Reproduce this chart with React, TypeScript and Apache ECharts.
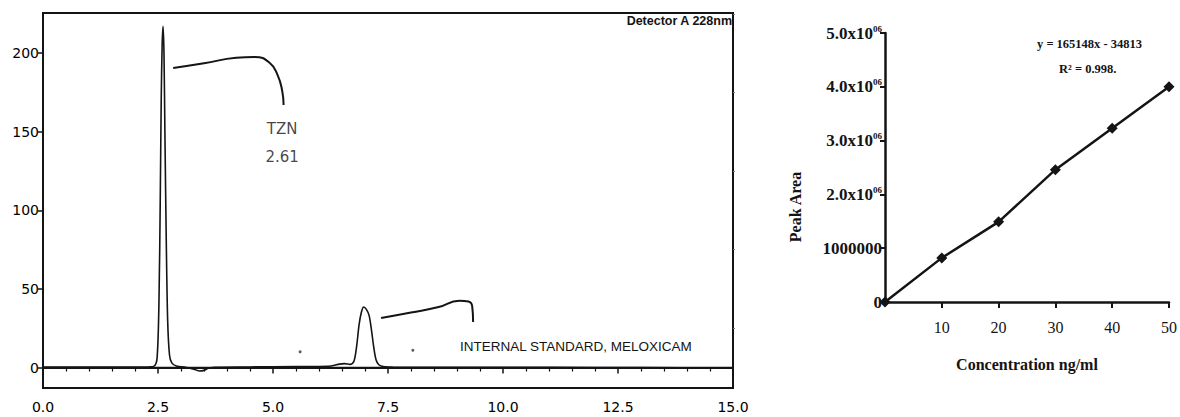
import React, { useEffect, useRef } from "react";
import * as echarts from "echarts";

// Chromatogram (left panel)
const chromTime = [0, 1.0, 2.0, 2.3, 2.42, 2.48, 2.52, 2.55, 2.57, 2.59, 2.61, 2.63, 2.65, 2.68, 2.71, 2.75, 2.8, 2.9, 3.1, 3.3, 3.4, 3.5, 3.6, 3.75, 4.5, 5.5, 6.2, 6.45, 6.55, 6.68, 6.76, 6.82, 6.87, 6.92, 6.97, 7.03, 7.09, 7.14, 7.19, 7.24, 7.3, 7.4, 7.6, 9.0, 11.0, 13.0, 15.0];
const chromSignal = [0.3, 0.3, 0.3, 0.4, 1, 6, 40, 110, 170, 205, 217, 200, 150, 80, 30, 8, 3, 1, 0.2, -1.2, -2.2, -1.8, -0.5, 0.2, 0.4, 0.6, 0.8, 2.2, 2.5, 2.0, 4, 14, 27, 35, 38.5, 37, 33, 24, 13, 5, 1.8, 0.6, 0.3, 0.2, 0.1, 0.0, -0.3];
const baselineTime = [0, 15];
const baselineSignal = [0, 0];
const tznLeaderTime = [2.83, 3.5, 4.2, 4.6, 4.92, 5.1, 5.2, 5.23];
const tznLeaderSignal = [190.5, 193.5, 197, 197.5, 194, 186, 176, 167];
const isLeaderTime = [7.35, 8.0, 8.6, 9.05, 9.25, 9.33, 9.35];
const isLeaderSignal = [31.5, 35, 38.5, 42.5, 42, 39, 29];
const dotTime = [5.59, 8.04];
const dotSignal = [10, 11];
const chromXTicks = [0, 2.5, 5, 7.5, 10, 12.5, 15];
const chromYTicks = [0, 50, 100, 150, 200];
const chromYMinorTicks = [25, 75, 125, 175, 225];

// Calibration (right panel)
const concentration = [0, 10, 20, 30, 40, 50];
const peakArea = [0, 820000, 1490000, 2460000, 3230000, 4000000];
const calXTicks = [10, 20, 30, 40, 50];

const zip = (a: number[], b: number[]) => a.map((v, i) => [v, b[i]]);
const ink = "#141414";

export default function App() {
  const ref = useRef<HTMLDivElement>(null);
  useEffect(() => {
    if (!ref.current) return;
    const chart = echarts.init(ref.current, undefined, { renderer: "svg" });
    const sans = "DejaVu Sans";
    const serif = "Liberation Serif";
    chart.setOption({
      animation: false,
      backgroundColor: "#ffffff",
      grid: [
        { left: 43, top: 13, width: 690, height: 375, show: true, borderColor: ink, borderWidth: 2, backgroundColor: "transparent" },
        { left: 885, top: 33, width: 288, height: 269 },
      ],
      xAxis: [
        {
          gridIndex: 0, type: "value", min: 0, max: 15, interval: 2.5,
          axisLine: { lineStyle: { color: ink, width: 2 } },
          axisTick: { show: true, length: 6, lineStyle: { color: ink, width: 1.5 } },
          minorTick: { show: true, splitNumber: 5, length: 4, lineStyle: { color: ink, width: 1.2 } },
          splitLine: { show: false },
          axisLabel: { color: "#000", fontFamily: sans, fontSize: 14, margin: 12, formatter: (v: number) => v.toFixed(1), customValues: chromXTicks },
        },
        {
          gridIndex: 1, type: "value", min: 0, max: 50, interval: 10,
          axisLine: { lineStyle: { color: ink, width: 2.5 } },
          axisTick: { show: true, length: 6, lineStyle: { color: ink, width: 2 }, customValues: calXTicks },
          splitLine: { show: false },
          axisLabel: { color: ink, fontFamily: serif, fontSize: 16, margin: 17, customValues: calXTicks },
          name: "Concentration ng/ml", nameLocation: "middle", nameGap: 54,
          nameTextStyle: { color: ink, fontFamily: serif, fontSize: 16, fontWeight: "bold" },
        },
      ],
      yAxis: [
        {
          gridIndex: 0, type: "value", min: -13, max: 225.5,
          axisLine: { show: true, lineStyle: { color: ink, width: 2 } },
          axisTick: { show: true, length: 5, lineStyle: { color: ink, width: 1.5 }, customValues: chromYTicks },
          splitLine: { show: false },
          axisLabel: { color: "#000", fontFamily: sans, fontSize: 14, margin: 4, customValues: chromYTicks },
        },
        {
          gridIndex: 0, type: "value", min: -13, max: 225.5,
          axisLine: { show: false },
          axisTick: { show: true, length: 2, lineStyle: { color: "#777", width: 1 }, customValues: chromYMinorTicks },
          splitLine: { show: false },
          axisLabel: { show: false },
        },
        {
          gridIndex: 1, type: "value", min: 0, max: 5000000, interval: 1000000,
          axisLine: { show: true, lineStyle: { color: ink, width: 2.5 } },
          axisTick: { show: true, length: 5, lineStyle: { color: ink, width: 2 } },
          splitLine: { show: false },
          axisLabel: {
            color: ink, fontFamily: serif, fontSize: 17, fontWeight: "bold", margin: 3,
            formatter: (v: number) => (v === 0 ? "0" : v === 1000000 ? "1000000" : `${(v / 1000000).toFixed(1)}x10{sup|06}`),
            rich: {
              sup: { fontFamily: serif, fontSize: 9, fontWeight: "bold", color: ink, padding: [0, 0, 9, 0] },
            },
          },
        },
      ],
      series: [
        {
          type: "line", xAxisIndex: 0, yAxisIndex: 0, data: zip(baselineTime, baselineSignal),
          symbol: "none", lineStyle: { color: ink, width: 1.5 }, silent: true,
        },
        {
          type: "line", xAxisIndex: 0, yAxisIndex: 0, data: zip(chromTime, chromSignal),
          symbol: "none", smooth: 0.3, lineStyle: { color: ink, width: 1.6 },
        },
        {
          type: "line", xAxisIndex: 0, yAxisIndex: 0, data: zip(tznLeaderTime, tznLeaderSignal),
          symbol: "none", smooth: true, lineStyle: { color: ink, width: 2 },
        },
        {
          type: "line", xAxisIndex: 0, yAxisIndex: 0, data: zip(isLeaderTime, isLeaderSignal),
          symbol: "none", smooth: true, lineStyle: { color: ink, width: 2 },
        },
        {
          type: "scatter", xAxisIndex: 0, yAxisIndex: 0, data: zip(dotTime, dotSignal),
          symbolSize: 3, itemStyle: { color: "#333" },
        },
        {
          type: "scatter", xAxisIndex: 0, yAxisIndex: 0, data: [[5.2, 143]], symbolSize: 0,
          label: { show: true, position: "inside", formatter: "TZN\n2.61", color: ink, fontFamily: sans, fontSize: 15, lineHeight: 28 },
        },
        {
          type: "line", xAxisIndex: 1, yAxisIndex: 2, data: zip(concentration, peakArea),
          symbol: "diamond", symbolSize: 11, itemStyle: { color: ink },
          lineStyle: { color: ink, width: 2.5 },
        },
      ],
      graphic: [
        {
          type: "text", right: 1180 - 732, top: 14,
          style: { text: "Detector A 228nm", fill: ink, font: "bold 12.5px 'Liberation Sans'", textAlign: "right" },
        },
        {
          type: "text", left: 460, top: 339,
          style: { text: "INTERNAL STANDARD, MELOXICAM", fill: ink, font: "13.5px 'Liberation Sans'" },
        },
        {
          type: "text", left: 1037, top: 37,
          style: { text: "y = 165148x - 34813", fill: ink, font: "bold 12.5px 'Liberation Serif'" },
        },
        {
          type: "text", left: 1059, top: 62,
          style: { text: "R² = 0.998.", fill: ink, font: "bold 12.5px 'Liberation Serif'" },
        },
        {
          type: "text", x: 795, y: 207, rotation: Math.PI / 2,
          style: { text: "Peak Area", fill: ink, font: "bold 16px 'Liberation Serif'", textAlign: "center", textVerticalAlign: "middle" },
        },
      ],
    });
    return () => chart.dispose();
  }, []);
  return <div ref={ref} style={{ position: "absolute", left: 0, top: 0, width: 1180, height: 417 }} />;
}
